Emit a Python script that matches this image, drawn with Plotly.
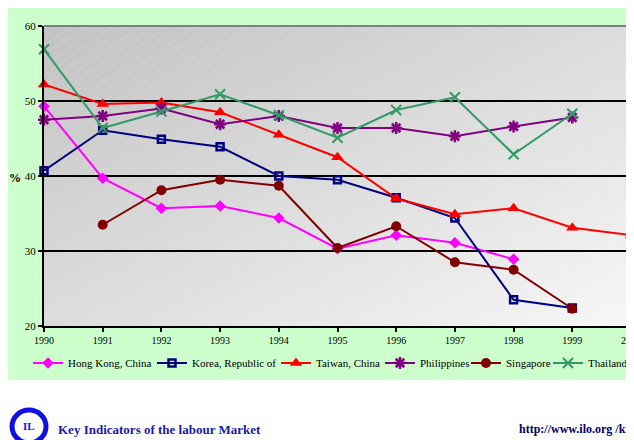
import base64
import plotly.graph_objects as go

years = [1990, 1991, 1992, 1993, 1994, 1995, 1996, 1997, 1998, 1999, 2000]
hong_kong = [49.3, 39.7, 35.7, 36.0, 34.4, 30.3, 32.1, 31.1, 28.9, None, None]
korea = [40.7, 46.1, 44.9, 43.9, 40.0, 39.5, 37.1, 34.4, 23.5, 22.4, None]
taiwan = [52.2, 49.6, 49.8, 48.5, 45.5, 42.5, 37.0, 34.9, 35.7, 33.1, 32.1]
philippines = [47.5, 48.0, 49.0, 46.9, 48.0, 46.4, 46.4, 45.3, 46.6, 47.8, None]
singapore = [None, 33.5, 38.1, 39.5, 38.7, 30.4, 33.3, 28.5, 27.5, 22.3, None]
thailand = [56.9, 46.4, 48.6, 50.9, 48.1, 45.1, 48.8, 50.5, 42.9, 48.3, None]
tick_years = [str(y) for y in years]
y_ticks = [20, 30, 40, 50, 60]

series = [
    ("Hong Kong, China", hong_kong, "#ff00ff", "diamond", 9, 0),
    ("Korea, Republic of", korea, "#000080", "square-open", 7, 2.5),
    ("Taiwan, China", taiwan, "#ff0000", "triangle-up", 11, 0),
    ("Philippines", philippines, "#800080", "asterisk-open", 10, 2.5),
    ("Singapore", singapore, "#800000", "circle", 10, 0),
    ("Thailand", thailand, "#339966", "x-thin-open", 10, 2),
]
# page x anchor for each legend entry (last one anchored at its right edge)
legend_pos = [(28, "left"), (152, "left"), (276, "left"), (380, "left"), (466, "left"), (633, "right")]

# page has an 8px body margin: work in page coordinates, convert to figure
OFF = 8
W, H = 634 - OFF, 440 - OFF
L, T = 44 - OFF, 26 - OFF
R = W - (632 - OFF)
B = H - (326 - OFF)
PW, PH = W - L - R, H - T - B

def px(x):
    return (x - OFF - L) / PW

def py(y):
    return (H - B - (y - OFF)) / PH

serif = "Liberation Serif"

fig = go.Figure()
legends = {}
for i, (name, vals, col, sym, size, lw) in enumerate(series):
    key = "legend" if i == 0 else f"legend{i + 1}"
    fig.add_trace(go.Scatter(
        x=years, y=vals, name=name, mode="lines+markers",
        line=dict(color=col, width=2),
        marker=dict(symbol=sym, size=size, color=col, line=dict(color=col, width=lw)),
        cliponaxis=False, legend=key,
    ))
    lx, anchor = legend_pos[i]
    legends[key] = dict(orientation="h", x=px(lx), xanchor=anchor,
                        y=py(363), yanchor="middle", bgcolor="rgba(0,0,0,0)",
                        font=dict(family=serif, size=11))

svg = """<svg xmlns='http://www.w3.org/2000/svg' width='600' height='300' preserveAspectRatio='none'>
<defs>
<linearGradient id='g' x1='0' y1='0' x2='1' y2='1'>
<stop offset='0' stop-color='#c2c2c2'/>
<stop offset='0.5' stop-color='#dcdcdc'/>
<stop offset='1' stop-color='#f7f7f7'/>
</linearGradient>
<pattern id='p' width='8' height='8' patternUnits='userSpaceOnUse' patternTransform='rotate(-35)'>
<line x1='0' y1='0' x2='8' y2='0' stroke='#ffffff' stroke-width='1' stroke-opacity='0.22'/>
</pattern>
</defs>
<rect width='600' height='300' fill='url(#g)'/>
<rect width='600' height='300' fill='url(#p)'/>
</svg>"""
uri = "data:image/svg+xml;base64," + base64.b64encode(svg.encode()).decode()

fig.add_layout_image(dict(
    source=uri, xref="x", yref="y", x=1990, y=60, sizex=10, sizey=40,
    sizing="stretch", layer="below", xanchor="left", yanchor="top",
))

fig.update_layout(
    width=W, height=H,
    margin=dict(l=L, r=R, t=T, b=B),
    paper_bgcolor="white",
    plot_bgcolor="rgba(0,0,0,0)",
    font=dict(family=serif, size=11, color="black"),
    showlegend=True,
    xaxis=dict(range=[1990, 2000], tickvals=years, ticktext=tick_years,
               showgrid=False, zeroline=False, showline=True, linecolor="black",
               linewidth=2, ticks="outside", ticklen=4, tickwidth=2, tickcolor="black",
               tickfont=dict(family=serif, size=10), ticklabeloverflow="allow",
               automargin=False),
    yaxis=dict(range=[20, 60], tickvals=y_ticks, showgrid=True, gridcolor="black",
               gridwidth=1.5, zeroline=False, showline=True, linecolor="black",
               linewidth=2, ticks="outside", ticklen=4, tickwidth=2, tickcolor="black",
               tickfont=dict(family=serif, size=11)),
    shapes=[
        dict(type="rect", xref="paper", yref="paper", x0=px(8), x1=px(640), y0=py(380), y1=py(6),
             fillcolor="#ccffcc", line=dict(width=0), layer="below"),
        dict(type="line", xref="paper", yref="paper", x0=0, x1=1, y0=1, y1=1,
             line=dict(color="#808080", width=2)),
        dict(type="line", xref="paper", yref="paper", x0=1, x1=1, y0=0, y1=1,
             line=dict(color="#808080", width=2)),
        dict(type="circle", xref="paper", yref="paper", x0=px(12), x1=px(46), y0=py(443), y1=py(410),
             fillcolor="white", line=dict(color="#1010e0", width=5)),
    ],
    annotations=[
        dict(text="<b>%</b>", xref="paper", yref="paper", x=px(15), y=py(178),
             xanchor="center", yanchor="middle",
             showarrow=False, font=dict(family=serif, size=12)),
        dict(text="<b>IL</b>", xref="paper", yref="paper", x=px(29), y=py(426),
             xanchor="center", yanchor="middle",
             showarrow=False, font=dict(family=serif, size=11, color="#1010e0")),
        dict(text="<b>Key Indicators of the labour Market</b>", xref="paper", yref="paper",
             x=px(56), y=py(429), xanchor="left", yanchor="middle", showarrow=False,
             font=dict(family=serif, size=13, color="#1a1aa6")),
        dict(text="<b>http://www.ilo.org /kilm</b>", xref="paper", yref="paper",
             x=px(518), y=py(429), xanchor="left", yanchor="middle", showarrow=False,
             font=dict(family=serif, size=12, color="#000066")),
    ],
    **legends,
)

fig.write_html("out.html")
